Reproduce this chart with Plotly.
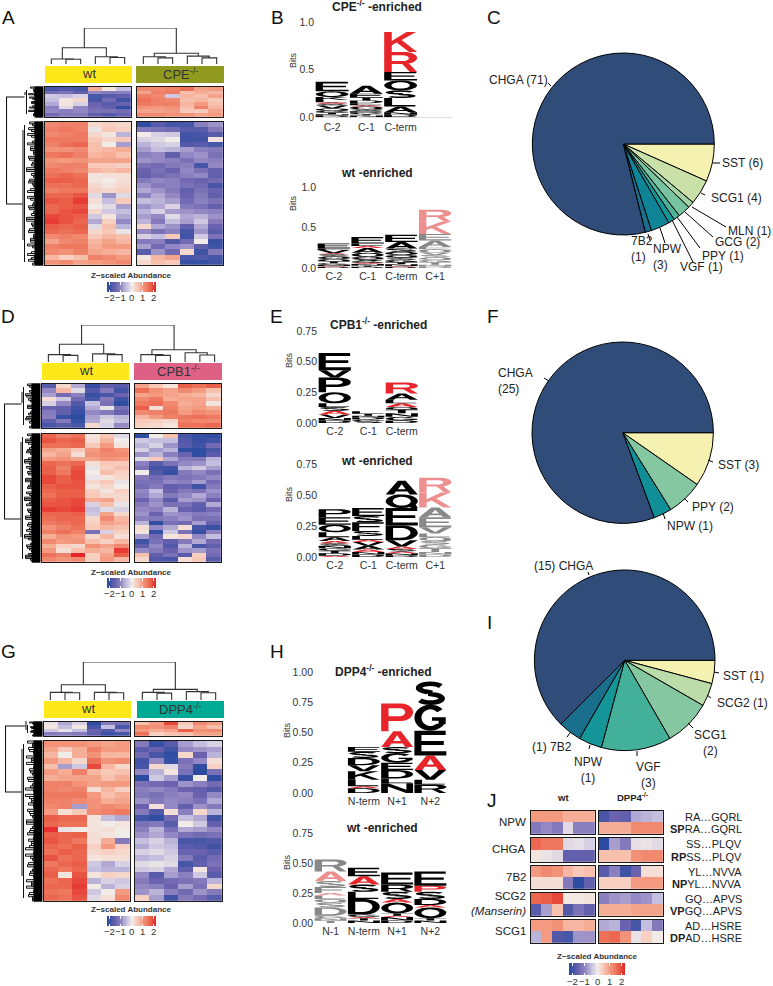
import math
import numpy as np
import plotly.graph_objects as go

W, H = 773, 986
FONT = "Liberation Sans"
INK = "#222222"

# ---------- heatmap values (rows top to bottom, six replicate columns) ----------
A_top_wt = [[-1.9,-1.8,-1.9,.8,.1,-.5],[-1.4,-1.3,-1.6,-1.0,-1.2,-1.1],[-.4,-.5,-.3,-1.9,-1.7,-1.6],[-.5,.1,.3,-1.9,-1.4,-2.0],
            [-.7,.1,-.3,-1.5,-1.7,-1.5],[-1.1,-.2,-1.0,-1.4,-1.6,-2.2],[-1.0,-1.1,-1.0,-1.3,-1.3,-1.4],[-1.4,-1.2,-1.2,-1.6,-1.8,-1.5]]
A_top_ko = [[1.2,1.2,1.3,1.5,.9,1.0],[.9,1.3,1.4,.6,.8,.7],[1.3,1.2,-.4,.7,.6,.9],[1.5,1.3,1.2,.6,.7,.5],
            [1.4,1.3,1.3,.7,1.0,.6],[1.1,1.0,1.1,.6,1.3,.7],[.9,.9,1.0,.5,.5,.9],[1.2,1.2,1.1,1.1,.9,1.0]]
A_bot_wt = [[1.2,1.3,1.3,.3,.4,.3],[1.3,1.4,1.3,-.1,.5,.4],[1.2,1.3,1.4,.3,.1,-.6],[1.4,1.4,1.4,.5,.3,.5],
            [1.3,1.5,1.6,.6,.0,-.8],[1.1,1.1,1.2,.6,.7,.8],[1.4,1.5,1.3,.7,.8,.6],[1.1,1.0,1.1,.9,.9,.9],
            [1.2,1.3,1.3,.5,.5,.4],[1.4,1.3,1.2,.7,.6,.7],[1.5,1.6,1.5,.1,.2,.2],[1.7,1.7,1.6,.1,.0,.2],
            [1.5,1.5,1.6,.3,.1,.3],[1.3,1.4,1.4,.4,.3,.4],[1.6,1.6,1.8,-.2,-.9,-.2],[1.8,1.7,2.0,.2,-.5,.5],
            [1.6,1.7,1.8,.0,-.2,-.8],[1.6,1.8,1.9,.3,-.4,-.5],[1.9,1.8,1.7,-.4,.1,-.7],[2.0,1.8,1.6,-.7,.4,-1.0],
            [1.7,1.6,1.7,-.2,.6,-.6],[1.6,1.5,1.6,.3,.5,-.1],[1.2,1.3,1.2,.5,.7,.6],[.9,1.2,1.3,.7,.9,.7],
            [1.3,1.4,1.4,.8,1.0,1.0],[1.2,1.1,1.3,.9,.8,.7],[.7,.4,.6,1.3,1.2,1.0],[1.1,1.2,.9,1.0,1.1,1.2]]
A_bot_ko = [[-2.2,-1.7,-1.9,-1.9,-1.1,-.9],[-1.2,-1.3,-1.4,-1.7,-1.7,-1.2],[.0,-.3,-.4,-2.0,-1.9,-1.7],[-.3,-.2,.0,-2.0,-2.0,.1],
            [-.6,-.4,-.3,-1.8,-1.7,-1.9],[-.8,-.5,-.6,-.8,-1.1,-1.2],[-1.1,-1.0,-1.6,-1.0,-.9,-1.3],[-.9,-1.0,-1.1,-1.3,-1.0,-1.1],
            [-1.3,-1.4,-1.2,-1.1,-1.9,-1.0],[-1.5,-1.3,-1.5,-1.0,-1.3,-1.6],[-1.6,-1.4,-1.3,-1.1,-1.0,-1.6],[-1.2,-1.0,-1.1,-1.4,-1.5,-1.4],
            [-.9,-1.2,-1.1,-1.3,-1.4,-1.9],[-.7,-.9,-1.2,-1.6,-1.3,-1.5],[-1.1,-.7,-1.0,-1.5,-1.2,-1.6],[-.5,-.6,-.8,-1.4,-1.1,-1.3],
            [-.9,-.7,-.3,-1.2,-1.3,-1.6],[-.6,-.3,-.8,-.9,-1.0,-1.1],[-.8,-1.0,-.2,-.7,-.6,-.9],[-.6,-1.2,-.5,-.8,-.4,-1.2],
            [.3,-.7,-.9,-1.6,-.7,-1.5],[-1.0,-1.3,-1.1,-1.9,-.9,-1.7],[-.3,-.5,.5,-2.0,-.4,-1.3],[-1.2,-1.1,-1.8,-1.4,.0,-2.1],
            [-.8,-1.4,-1.0,-.9,-1.6,-2.0],[-1.7,-.9,-1.4,.3,-2.0,-1.2],[.1,.7,.9,-1.9,-1.8,-1.9],[.3,.6,.5,-2.1,-2.1,-2.0]]

D_top_wt = [[-1.7,.3,-.7,-2.1,-1.6,-1.7],[-1.0,.7,-.2,-1.8,-1.2,-2.0],[-.8,-1.4,-1.1,-2.1,-1.9,-1.5],[.2,-.4,-1.4,-1.9,-1.2,-2.0],
            [-.3,-1.0,-1.8,-.5,-1.3,-2.2],[-1.5,-1.6,-2.0,-.7,-.1,-1.3],[-1.2,-1.6,-2.1,-1.0,-1.2,-1.5],[-1.1,-2.1,-2.3,-.8,-.4,-.6],
            [-1.6,-1.2,-2.1,-.7,-.2,-.5],[-1.9,-1.7,-1.9,.3,-.3,-1.0]]
D_top_ko = [[.9,.5,.1,1.7,1.5,1.7],[1.5,1.1,.9,1.2,1.0,.6],[.9,1.0,.9,.8,.7,.3],[1.2,1.4,.8,.9,.9,.6],
            [1.4,1.5,1.2,.8,.9,.1],[1.7,.2,1.3,.9,1.0,.8],[1.2,1.3,1.4,1.0,1.2,1.1],[.7,1.0,1.3,1.4,1.5,1.4],
            [.5,.4,.3,1.3,1.2,1.2],[.4,.3,.1,1.5,1.5,1.6]]
D_bot_wt = [[1.6,1.3,1.5,.1,.5,-.2],[1.8,1.6,1.7,.2,.7,.0],[1.5,1.5,1.6,.5,1.0,.1],[.9,.8,.5,1.0,1.3,1.1],
            [.7,.9,.2,1.1,1.2,1.2],[1.0,1.1,.9,.9,1.1,1.0],[1.6,1.5,1.6,.2,.5,.5],[1.7,1.3,1.8,-.1,.4,.6],
            [1.7,1.4,1.9,.0,.6,.4],[1.9,1.7,1.9,-.1,.1,.3],[1.9,1.7,1.8,.3,.5,-.1],[1.7,1.8,1.8,.1,.3,.0],
            [1.6,1.7,1.7,.4,.1,.4],[1.5,1.7,1.7,.5,.3,.3],[1.7,1.8,1.9,.8,.9,.3],[1.8,1.8,1.9,-.3,.6,-.1],
            [2.0,1.9,2.0,-.5,-.2,-.3],[1.6,1.6,1.7,-.4,.9,.3],[1.5,1.6,1.6,.3,1.2,.7],[1.4,1.5,1.6,.4,.9,.8],
            [1.1,1.3,1.5,.5,.7,.6],[1.3,1.5,1.3,-1.3,-.3,.4],[.8,1.1,1.0,.3,.7,.2],[1.2,1.0,1.1,.6,.4,.7],
            [.8,.4,.3,1.1,.9,1.2],[1.0,.2,.6,.8,.7,2.0],[1.5,1.3,2.2,.4,.9,1.7],[1.2,1.1,1.2,.4,1.0,.7]]
D_bot_ko = [[-2.2,.0,.6,-1.9,-2.1,-2.2],[-.4,-.5,-.5,-1.8,-2.1,-2.0],[-.6,-.3,-.9,-1.7,-2.0,-1.4],[-.3,-.8,-.6,-2.2,-2.2,-1.9],
            [-.9,-.6,-1.1,-1.5,-2.2,-1.7],[-.2,.5,-.7,-1.2,-1.2,-.6],[-1.1,-1.7,-1.3,-1.0,-.9,-.5],[-1.3,-2.0,-2.0,-.6,-.4,-.8],
            [.0,-1.8,-2.1,-1.2,-1.0,-1.3],[-1.2,-1.4,-1.2,-1.3,-1.2,-1.0],[-1.3,-1.3,-1.0,-1.1,-.8,-1.4],[-1.4,-1.2,-1.6,-1.5,-2.0,-1.2],
            [-1.0,-.5,-1.5,-1.2,-1.3,-.9],[-1.1,-.7,-1.2,-1.0,-.7,-1.1],[-1.5,-1.0,-1.7,-.8,-.9,-1.5],[-1.2,-.9,-1.3,-1.3,-1.6,-.7],
            [-1.0,-1.1,-.6,-1.5,-1.7,-1.4],[-.9,-1.5,-.9,-1.0,-1.2,-1.1],[-1.1,-1.2,-1.1,-.9,-1.3,-1.3],[-.6,-2.2,-1.3,-1.4,-.8,-1.5],
            [.2,-1.0,-.7,.2,-1.9,-2.1],[.1,-2.1,-.4,-1.3,-2.1,-1.1],[-.8,-1.4,.1,.3,-1.0,-.5],[-2.0,-1.3,-1.6,-1.2,-.7,-1.4],
            [-1.6,-1.0,-1.8,-.6,-1.9,-1.6],[-1.0,-1.2,-1.5,-.9,-.8,-1.3],[.6,-1.6,-1.3,-1.7,.4,-1.4],[.3,-1.8,-1.9,.2,.5,-1.7]]

G_top_wt = [[-.1,-.7,-.3,-2.2,-1.2,-1.3],[.1,-.5,.1,-1.9,-.5,-1.9],[-.4,-.1,-.5,-1.5,-1.8,-1.0],[-1.2,-1.1,-1.2,-1.6,-2.1,-1.9]]
G_top_ko = [[.6,1.0,1.9,.5,1.2,1.0],[1.2,1.1,1.3,.3,.9,.6],[1.0,.8,.9,1.7,1.1,1.2],[1.5,.4,.6,.6,.9,.9]]
G_bot_wt = [[1.1,1.1,1.1,1.0,.9,1.0],[.9,.5,.8,1.3,1.0,1.0],[.7,.0,.8,1.1,.7,.7],[1.0,.7,.3,1.5,1.1,1.2],
            [.6,-.8,-.4,1.9,.7,.3],[1.0,.8,1.3,.7,.5,.6],[.8,.9,.9,.9,.6,.8],[1.3,1.3,1.1,.9,1.0,1.0],
            [1.3,1.2,1.3,.2,.7,.4],[1.4,1.4,1.4,1.0,.6,.8],[1.3,1.3,1.2,1.1,.8,.9],[1.2,1.3,-.8,1.1,1.2,1.1],
            [1.0,.2,.5,1.2,1.3,1.4],[1.7,1.6,1.6,.1,-.5,-.7],[1.6,1.5,1.5,.1,.0,.1],[2.1,-.1,.0,.1,.2,.0],
            [1.7,1.6,1.7,.2,.1,.0],[1.8,1.6,1.4,.2,.8,-1.2],[1.6,1.5,1.7,.4,1.0,.4],[1.5,1.7,1.6,.3,.4,.3],
            [1.8,1.5,1.6,.1,.2,.2],[1.4,1.6,1.7,-.4,-.7,-.3],[1.6,1.4,1.6,-.5,-.6,-.6],[1.7,.1,1.8,.1,.4,.3],
            [1.5,1.6,1.9,-.6,-.3,-.4],[1.6,1.6,2.0,.0,-.6,-.3],[1.5,1.4,1.9,-.4,.0,1.0],[1.6,1.5,1.8,-.2,.2,1.2]]
G_bot_ko = [[-1.2,-2.1,-1.7,-.8,-.5,-.3],[-1.7,-1.5,-2.0,-1.0,-.9,-.8],[-1.4,-1.9,-2.2,.3,-1.5,-.6],[-2.0,-1.0,-2.1,-1.3,-1.0,.2],
            [-1.9,.3,-.2,-1.2,-2.2,.4],[-1.0,-.6,.1,-1.3,-2.3,-1.3],[-2.3,-.4,-.8,-2.1,.0,-2.2],[-1.3,-1.4,-1.5,-.9,-1.1,-1.4],
            [-1.1,-1.0,-1.2,-1.5,-1.6,-1.8],[-1.2,-1.3,-1.1,-1.0,-1.5,-1.0],[-.9,-1.2,-1.0,-1.1,-1.3,-.7],[-1.5,.2,-1.0,-1.6,-.9,-1.2],
            [-1.2,-1.8,.2,-1.1,.3,-.6],[-2.0,-2.2,-1.4,-.5,-.7,-2.0],[-1.3,-1.2,-1.7,.0,-.4,-1.6],[-1.1,-.6,-1.3,-.7,-.8,-1.0],
            [-.9,-.7,-1.0,-1.3,-1.4,-1.3],[-.5,-.3,-.6,-1.9,-1.9,-1.8],[-.7,-.4,-.5,-1.7,-1.8,-2.0],[-.3,-.2,-.4,-1.5,-1.5,-1.7],
            [-.6,-.5,-.3,-1.2,-1.7,-1.4],[-.2,-.1,-.2,-1.9,-1.6,-1.3],[-.4,-.3,-.7,-1.6,.1,-1.5],[-1.0,-1.7,-.8,-1.1,-.4,-1.7],
            [-1.2,-1.5,-1.4,-1.3,-1.2,-.6],[-1.0,-1.1,-1.5,-.8,-1.3,.3],[-.9,-.6,-1.1,-1.4,-.9,-1.2],[.4,-.8,-2.0,-1.2,-1.4,-1.7]]

# ---------- panel J heat values ----------
J_names = ["NPW", "CHGA", "7B2", "SCG2<br><i>(Manserin)</i>", "SCG1"]
J_wt = [[[1.0,1.0,1.0,.8,.8,.8],[-1.2,-1.0,-1.2,-.2,-1.1,-1.1]],
        [[1.6,1.4,1.4,-.2,-.15,-.3],[.1,-.1,-.2,-1.6,-1.6,-1.6]],
        [[1.0,1.2,1.1,.7,.5,.6],[.2,.2,.2,-1.2,-2.2,-1.6]],
        [[1.6,1.7,1.9,.05,.05,.1],[-1.7,-.8,.6,-1.8,-1.3,-1.6]],
        [[1.0,1.0,1.1,.7,.7,.8],[-.6,1.0,-1.8,-1.9,-.9,-.9]]]
J_ko = [[[-1.9,-1.5,-1.6,-.7,-.6,-.5],[.8,.8,.8,1.2,1.2,1.2]],
        [[-2.3,-.8,-1.2,-.15,-.1,-.2],[.6,.6,.6,1.1,1.2,1.2]],
        [[-1.7,-1.1,-2.0,-1.5,.2,.2],[.4,.4,.4,1.0,1.0,1.0]],
        [[-1.1,-.9,-.8,-1.0,-.9,-.5],[.8,.8,.8,.9,.9,.9]],
        [[-.7,-.6,-1.5,-1.9,-.5,-1.2],[1.5,1.6,1.1,-.1,.4,.0]]]
J_peptides = [["RA…GQRL","<b>SP</b>RA…GQRL"],["SS…PLQV","<b>RP</b>SS…PLQV"],["YL…NVVA","<b>NP</b>YL…NVVA"],
              ["GQ…APVS","<b>VP</b>GQ…APVS"],["AD…HSRE","<b>DP</b>AD…HSRE"]]

# ---------- legend scale ----------
LEGEND_Z = [-2.25,-2,-1.75,-1.5,-1.25,-1,-.75,-.5,-.25,0,.25,.5,.75,1,1.25,1.5,1.75,2,2.25]
LEGEND_TICKS = [-2,-1,0,1,2]
LEGEND_TEXT = ["−2","−1","0","1","2"]

# ---------- column dendrograms: (height, left, right), leaves are 0..11 ----------
A_col_tree = (1.0,(.45,(.14,0,(.13,1,2)),(.2,3,(.18,4,5))),(.3,(.2,6,(.17,7,8)),(.22,9,(.17,10,11))))
D_col_tree = (1.0,(.48,(.2,0,(.18,1,2)),(.22,3,(.2,4,5))),(.33,(.2,6,(.18,7,8)),(.25,9,(.19,10,11))))
G_col_tree = (1.0,(.4,(.2,0,(.19,1,2)),(.2,3,(.19,4,5))),(.28,(.2,6,(.18,7,8)),(.22,9,(.19,10,11))))

# ---------- row dendrogram depths (distance of each branch from the leaf edge) ----------
A_depth_top = [13,10,9,15,6,11,8,12,7,14,9,6,10,8]
A_depth_bot = [14,9,12,16,8,11,7,13,10,15,9,12,17,8,10,14,11,7,16,9,13,10,15,8,12,17,9,11,14,7,10,13,16,8,12,9,15,11]
D_depth_top = [13,9,11,15,7,10,8,13,6,12,14,9,7,11]
D_depth_bot = [13,10,15,8,11,14,7,12,16,9,11,13,8,15,10,12,7,14,9,16,11,8,13,10,15,7,12,9,14,11,16,8,10,13,9,12,15,8]
G_depth_top = [13,9,7,11,8,12,6,10]
G_depth_bot = [15,10,13,8,11,16,9,12,7,14,10,17,8,13,11,9,15,12,7,16,10,13,8,14,11,17,9,12,7,15,10,13,8,11,16,9,14,10]
A_root = (97, 204); D_root = (404, 519); G_root = (726, 792)

# ---------- sequence logos: lower case letters are the red residues ----------
B1_pos = ["C-2","C-1","C-term",""]
B1_seq = ["DNTGQVSaLKOE","NTGDSQaLDTEA","DNALSOErk"]
B1_bits = [[.015,.015,.015,.02,.025,.03,.02,.015,.025,.03,.06,.1],[.015,.015,.015,.015,.02,.03,.015,.02,.03,.03,.04,.085],[.025,.025,.06,.09,.08,.105,.09,.21,.21]]
B2_pos = ["C-2","C-1","C-term","C+1"]
B2_seq = ["DaNGTQOSaVLE","DTNaGSQOAaLE","DaNTGSQOSAE","DNTGQSVOEAEkr"]
B2_bits = [[.015,.01,.015,.02,.02,.03,.03,.03,.012,.04,.02,.06],[.015,.015,.02,.012,.025,.02,.03,.05,.06,.025,.03,.08],
           [.015,.01,.02,.025,.03,.03,.03,.04,.04,.08,.09],[.02,.02,.03,.03,.03,.03,.03,.04,.03,.08,.08,.15,.15]]
E1_pos = ["C-2","C-1","C-term"]
E1_seq = ["DNVaSLOPVE","SGDNTL","DGNTQaLAr"]
E1_bits = [[.02,.02,.03,.03,.03,.03,.09,.12,.06,.14],[.015,.015,.015,.015,.015,.02],[.02,.03,.03,.03,.02,.03,.03,.05,.09]]
E2_pos = ["C-2","C-1","C-term","C+1"]
E2_seq = ["aDTGNSaALOEP","DNaAVaLSFSE","DNaSaVDEQA","DNTGSQLVEAkr"]
E2_bits = [[.01,.02,.02,.02,.02,.02,.02,.03,.04,.06,.06,.065],[.02,.02,.02,.03,.03,.02,.03,.04,.07,.05,.065],
           [.015,.015,.015,.02,.02,.05,.12,.14,.11,.11],[.02,.02,.03,.03,.03,.03,.03,.05,.08,.08,.12,.12]]
H1_pos = ["","N-term","N+1","N+2"]
H1_seq = ["","DaLKVDSE","NLDEGSap","RLVaEGS"]
H1_bits = [[],[.04,.015,.055,.07,.05,.06,.05,.04],[.08,.04,.07,.06,.08,.05,.13,.23],[.07,.04,.08,.12,.205,.215,.19]]
H2_pos = ["N-1","N-term","N+1","N+2"]
H2_seq = ["TNGDSQLaFSaR","NTaGDLSaE","DNaTOaSRE","NTOaDSpE"]
H2_bits = [[.02,.02,.02,.07,.04,.03,.03,.02,.05,.05,.08,.10],[.02,.02,.01,.02,.13,.06,.06,.07,.07],
           [.02,.03,.01,.02,.09,.03,.06,.06,.10],[.02,.02,.09,.02,.05,.06,.05,.12]]

# ---------- pies ----------
C_labels = ["SST","SCG1","MLN","GCG","PPY","VGF","NPW","7B2","CHGA"]
C_values = [6,4,1,2,1,1,3,1,71]
C_colors = ["#f5f1b0","#c9e0a8","#a5d3a5","#78c3a0","#4fb39b","#149597","#0f8496","#1a6f8c","#2f4d78"]
F_labels = ["SST","PPY","NPW","CHGA"]
F_values = [3,2,1,25]
F_colors = ["#f5f1b0","#85c7a0","#108f96","#2f4d78"]
I_labels = ["SST","SCG2","SCG1","VGF","NPW","7B2","CHGA"]
I_values = [1,1,2,3,1,1,15]
I_colors = ["#f5f1b0","#bcdcaa","#85c7a0","#43b09a","#149597","#1a6f8c","#2f4d78"]

RAMP = [[-2.25,"#2b4ba0"],[-1.5,"#6a62ae"],[-1,"#9388c3"],[-.5,"#c5bfdf"],[0,"#f2ece8"],[.5,"#f8c9b8"],[1,"#f39a80"],[1.7,"#ea5f48"],[2.25,"#e41f26"]]
COLORSCALE = [[(v+2.25)/4.5, c] for v, c in RAMP]

fig = go.Figure()
layout = {}
shapes = []
annots = []
nax = [0]

def fx(x): return x / W
def fy(y): return 1 - y / H

def axes(x0, x1, y0, y1, xa=None, ya=None):
    nax[0] += 1
    n = nax[0]
    s = "" if n == 1 else str(n)
    base = dict(showgrid=False, zeroline=False, showticklabels=False, ticks="", fixedrange=True)
    d = dict(base, domain=[fx(x0), fx(x1)], anchor="y"+s); d.update(xa or {})
    e = dict(base, domain=[fy(y1), fy(y0)], anchor="x"+s); e.update(ya or {})
    layout["xaxis"+s] = d
    layout["yaxis"+s] = e
    return "x"+s, "y"+s

def text(x, y, t, size=10, anchor="left", color=INK, angle=0):
    annots.append(dict(x=fx(x), y=fy(y), xref="paper", yref="paper", text=t, showarrow=False, xanchor=anchor,
                       yanchor="middle", align=anchor, font=dict(size=size, family=FONT, color=color),
                       textangle=angle, borderpad=0, borderwidth=0))

def heat(z, x0, x1, y0, y1):
    frame = dict(showline=True, mirror=True, linecolor="#1a1a1a", linewidth=1.3)
    xa, ya = axes(x0+.8, x1-.8, y0+.8, y1-.8, frame, dict(frame, autorange="reversed"))
    fig.add_trace(go.Heatmap(z=z, xaxis=xa, yaxis=ya, colorscale=COLORSCALE, zmin=-2.25, zmax=2.25, hoverinfo="skip", showscale=False))

def legend_bar(x0, x1, y0, y1, title_y, label_y):
    xa, ya = axes(x0, x1, y0, y1,
                  dict(range=[-2.25, 2.25], tickvals=LEGEND_TICKS, ticks="inside", ticklen=2.5,
                       tickcolor="white", tickwidth=1, mirror="ticks"),
                  dict(range=[-.5, .5]))
    fig.add_trace(go.Heatmap(z=[LEGEND_Z], x=LEGEND_Z, xaxis=xa, yaxis=ya, zsmooth="best", colorscale=COLORSCALE, zmin=-2.25, zmax=2.25, hoverinfo="skip", showscale=False))
    text((x0+x1)/2, title_y, "<b>Z−scaled Abundance</b>", size=8, anchor="center", color="#333333")
    for t, s in zip(LEGEND_TICKS, LEGEND_TEXT):
        text(x0 + (t+2.25)/4.5*(x1-x0), label_y, s, size=9.5, anchor="center", color="#333333")

def tree_lines(t, gap):
    xs, ys = [], []
    def rec(n):
        if isinstance(n, int):
            return n + (gap if n >= 6 else 0), 0.0
        h, l, r = n
        xl, hl = rec(l); xr, hr = rec(r)
        xs.extend([xl, xl, xr, xr, None]); ys.extend([hl, h, h, hr, None])
        return (xl + xr) / 2, h
    rec(t)
    return xs, ys

def col_dendro(tree, x0, x1, y0, y1, gap):
    xa, ya = axes(x0, x1, y0, y1, dict(range=[-.5, 11.5+gap]), dict(range=[0, 1]))
    xs, ys = tree_lines(tree, gap)
    fig.add_trace(go.Scatter(x=xs, y=ys, xaxis=xa, yaxis=ya, mode="lines", line=dict(color="#333333", width=1.1), hoverinfo="skip", showlegend=False))

def row_dendro(depth_top, depth_bot, root, xroot, xedge, top, bot):
    xa, ya = axes(xroot, xedge, top[0], bot[1], dict(range=[xedge-xroot, 0]), dict(range=[bot[1], top[0]]))
    xs, ys = [], []
    for dep, (a, b) in ((depth_top, top), (depth_bot, bot)):
        dep = [v for pair in zip(dep, dep[::-1]) for v in pair]
        rows = np.linspace(a + 1, b - 1, len(dep))
        for i in range(len(dep) - 1):
            xs += [0, dep[i], dep[i], 0, None]
            ys += [rows[i], rows[i], rows[i+1], rows[i+1], None]
        m = max(dep) + 2
        xs += [m, m, None]; ys += [rows[0] + 3, rows[-1] - 3, None]
        k = m + 1.5
        xs += [k, k, None]; ys += [rows[0] + 8, rows[-1] - 25, None]
    fig.add_trace(go.Scatter(x=xs, y=ys, xaxis=xa, yaxis=ya, mode="lines", line=dict(color="#111111", width=1), hoverinfo="skip", showlegend=False))
    end = xedge - xroot - .5
    top_k = max(depth_top) + 4; bot_k = max(depth_bot) + 4
    fig.add_trace(go.Scatter(x=[top_k, end, end, bot_k], y=[root[0], root[0], root[1], root[1]], xaxis=xa, yaxis=ya, mode="lines",
                             line=dict(color="#111111", width=1.1), hoverinfo="skip", showlegend=False))
    fig.add_trace(go.Scatter(x=[4.5, 4.5, None, 4.5, 4.5], y=[top[0]+.5, top[1]-.5, None, bot[0]+.5, bot[1]-.5], xaxis=xa, yaxis=ya, mode="lines",
                             line=dict(color="#000000", width=9), hoverinfo="skip", showlegend=False))

def color_strip(x0, x1, y0, y1, color, label):
    shapes.append(dict(type="rect", xref="paper", yref="paper", x0=fx(x0), x1=fx(x1), y0=fy(y1), y1=fy(y0), fillcolor=color, line=dict(width=0)))
    text((x0+x1)/2, (y0+y1)/2 - 1, label, size=13, anchor="center", color="#333333")

# ---------- glyphs in a unit box ----------
def arc(cx, cy, rx, ry, a0, a1, n=14):
    return [(cx + rx*math.cos(math.radians(a)), cy + ry*math.sin(math.radians(a))) for a in np.linspace(a0, a1, n)]

def s_glyph():
    c = arc(.5,.73,.36,.18,25,270,16) + arc(.5,.27,.36,.18,90,-155,16)
    c = np.array(c)
    t = np.gradient(c, axis=0); t /= np.linalg.norm(t, axis=1, keepdims=True)
    nrm = np.stack([-t[:,1], t[:,0]], axis=1)
    return [[tuple(p) for p in c + .1*nrm] + [tuple(p) for p in (c - .1*nrm)[::-1]]]

P_HOLE = [(.23,.54),(.58,.54)] + arc(.58,.685,.17,.145,-90,90) + [(.23,.83)]
GLYPHS = {
 "E": [[(0,0),(1,0),(1,.17),(.22,.17),(.22,.42),(.92,.42),(.92,.58),(.22,.58),(.22,.83),(.98,.83),(.98,1),(0,1)]],
 "F": [[(0,0),(.22,0),(.22,.42),(.85,.42),(.85,.58),(.22,.58),(.22,.83),(.98,.83),(.98,1),(0,1)]],
 "L": [[(0,0),(.95,0),(.95,.17),(.24,.17),(.24,1),(0,1)]],
 "T": [[(.38,0),(.62,0),(.62,.83),(1,.83),(1,1),(0,1),(0,.83),(.38,.83)]],
 "K": [[(0,0),(.23,0),(.23,.33),(.38,.47),(.76,0),(1,0),(.53,.6),(.97,1),(.68,1),(.23,.55),(.23,1),(0,1)]],
 "V": [[(.38,0),(.62,0),(1,1),(.76,1),(.5,.25),(.24,1),(0,1)]],
 "A": [[(0,0),(.25,0),(.32,.22),(.68,.22),(.75,0),(1,0),(.62,1),(.38,1)],[(.38,.38),(.62,.38),(.5,.75)]],
 "N": [[(0,0),(.21,0),(.21,.67),(.78,0),(1,0),(1,1),(.79,1),(.79,.33),(.22,1),(0,1)]],
 "P": [[(0,0),(.23,0),(.23,.37),(.6,.37)] + arc(.62,.685,.38,.315,-90,90) + [(0,1)], P_HOLE],
 "R": [[(0,0),(.23,0),(.23,.4),(.55,.4),(.78,0),(1,0),(.74,.44)] + arc(.62,.7,.38,.3,-65,90) + [(0,1)], P_HOLE],
 "D": [[(0,0),(.5,0)] + arc(.5,.5,.5,.5,-90,90) + [(0,1)], [(.23,.17),(.47,.17)] + arc(.47,.5,.3,.33,-90,90) + [(.23,.83)]],
 "O": [arc(.5,.5,.5,.5,0,360,28), arc(.5,.5,.28,.32,0,360,28)],
 "Q": [arc(.5,.5,.5,.5,-30,300,28) + [(.8,.0),(1,0)], arc(.5,.5,.28,.32,0,360,28)],
 "G": [arc(.5,.5,.5,.5,40,330,24) + [(.98,.25),(.98,.52),(.55,.52),(.55,.38),(.76,.38),(.76,.28)] + arc(.5,.5,.28,.32,310,40,18)],
 "S": s_glyph(),
}

def glyph_path(ch, x0, x1, y0, y1):
    out = []
    for poly in GLYPHS[ch]:
        pts = [f"{x0+(x1-x0)*px:.4f},{y0+(y1-y0)*py:.4f}" for px, py in poly]
        out.append("M" + " L".join(pts) + " Z")
    return " ".join(out)

def logo(pos, seq, bits, x0, x1, y_base, y_top, ymax, ticks, faded=None, baseline=False, tick_fmt="{:.1f}"):
    xa_opts = dict(range=[-.5, len(pos)-.5], tickvals=[i for i,p in enumerate(pos) if p], ticktext=[p for p in pos if p],
                   showticklabels=True, tickfont=dict(size=10.5, family=FONT, color="#333333"))
    if baseline:
        xa_opts.update(showline=True, linecolor="#dddddd", linewidth=1)
    ya_opts = dict(range=[0, ymax], tickvals=ticks, ticktext=[tick_fmt.format(t) for t in ticks], showticklabels=True,
                   tickfont=dict(size=10.5, family=FONT, color="#333333"))
    xa, ya = axes(x0, x1, y_top, y_base, xa_opts, ya_opts)
    for i, (letters, hs) in enumerate(zip(seq, bits)):
        base = 0.0
        for ch, h in zip(letters, hs):
            red = ch.islower()
            fade = (i == faded)
            col = ("#ee8f8f" if fade else "#e8252a") if red else ("#888888" if fade else "#000000")
            shapes.append(dict(type="path", xref=xa, yref=ya, path=glyph_path(ch.upper(), i-.48, i+.48, base, base+h),
                               fillcolor=col, line=dict(width=0)))
            base += h

def pie(labels, values, colors, cx, cy, r):
    fig.add_trace(go.Pie(labels=labels, values=values, sort=False, direction="clockwise", rotation=90, textinfo="none", hoverinfo="skip",
                         marker=dict(colors=colors, line=dict(color="#000000", width=1)), showlegend=False,
                         domain=dict(x=[fx(cx-r), fx(cx+r)], y=[fy(cy+r), fy(cy-r)])))

def leader(x0, y0, x1, y1):
    shapes.append(dict(type="line", xref="paper", yref="paper", x0=fx(x0), y0=fy(y0), x1=fx(x1), y1=fy(y1), line=dict(color="#000000", width=1)))

# ---------- panels A, D, G ----------
def heat_panel(top_wt, top_ko, bot_wt, bot_ko, wtx, kox, topy, boty):
    heat(top_wt, *wtx, *topy); heat(top_ko, *kox, *topy)
    heat(bot_wt, *wtx, *boty); heat(bot_ko, *kox, *boty)

heat_panel(A_top_wt, A_top_ko, A_bot_wt, A_bot_ko, (44,132), (136,224), (86,118), (121,266))
heat_panel(D_top_wt, D_top_ko, D_bot_wt, D_bot_ko, (41,130), (134,222), (383,429), (433,563))
heat_panel(G_top_wt, G_top_ko, G_bot_wt, G_bot_ko, (43,131), (134,223), (721,737), (740,902))
legend_bar(107, 156, 282, 292, 275, 297)
legend_bar(107, 156, 578, 588, 572, 593)
legend_bar(107, 156, 916, 926, 909, 931)

col_dendro(A_col_tree, 44, 224, 28, 64, .27)
col_dendro(D_col_tree, 41, 222, 325, 362, .27)
col_dendro(G_col_tree, 43, 223, 662, 700, .27)
row_dendro(A_depth_top, A_depth_bot, A_root, 6, 43.5, (86,118), (121,266))
row_dendro(D_depth_top, D_depth_bot, D_root, 4, 40.5, (383,429), (433,563))
row_dendro(G_depth_top, G_depth_bot, G_root, 5, 42.5, (721,737), (740,902))
color_strip(45,132,66,83,"#ffe81a","wt"); color_strip(136,224,66,83,"#8f9a1e","CPE<sup>-/-</sup>")
color_strip(42,129,363,380,"#ffe81a","wt"); color_strip(134,222,363,380,"#df6085","CPB1<sup>-/-</sup>")
color_strip(44,131,701,718,"#ffe81a","wt"); color_strip(137,224,701,718,"#00ab96","DPP4<sup>-/-</sup>")

# ---------- logos ----------
logo(B1_pos, B1_seq, B1_bits, 315, 452, 117, 22, 1.0, [0,.5,1.0], baseline=True)
logo(B2_pos, B2_seq, B2_bits, 317, 452, 268, 187, 1.0, [0,.5,1.0], faded=3)
logo(E1_pos+[""], E1_seq, E1_bits, 318, 452, 423, 331, .75, [0,.25,.5,.75], tick_fmt="{:.2f}")
logo(E2_pos, E2_seq, E2_bits, 318, 452, 557, 464, .75, [0,.25,.5,.75], faded=3, tick_fmt="{:.2f}")
logo(H1_pos, H1_seq, H1_bits, 314, 447, 793, 672, 1.0, [0,.25,.5,.75,1.0], tick_fmt="{:.2f}")
logo(H2_pos, H2_seq, H2_bits, 314, 447, 923, 833, .75, [0,.25,.5,.75], faded=0, tick_fmt="{:.2f}")
for x, y, t in ((377,6,"CPE<sup>-/-</sup> -enriched"),(377,173,"wt -enriched"),(378,324,"CPB1<sup>-/-</sup> -enriched"),
                (377,461,"wt -enriched"),(383,671,"DPP4<sup>-/-</sup> -enriched"),(382,828,"wt -enriched")):
    text(x, y, f"<b>{t}</b>", size=12, anchor="center")
for x, y in ((293,60),(293,203),(289,360),(289,494),(287,730),(287,862)):
    text(x, y, "Bits", size=9, anchor="center", color="#333333", angle=-90)

# ---------- pies ----------
pie(C_labels, C_values, C_colors, 623.3, 144, 91)
pie(F_labels, F_values, F_colors, 622.7, 432.7, 90.7)
pie(I_labels, I_values, I_colors, 624.7, 660.3, 90.3)
for x, y, t, a in ((548,80,"CHGA (71)","right"),(722,163,"SST (6)","left"),(711,198,"SCG1 (4)","left"),(728,231,"MLN (1)","left"),
                   (715,242,"GCG (2)","left"),(702,256,"PPY (1)","left"),(680,267,"VGF (1)","left"),(653,257,"NPW<br>(3)","left"),(631,249,"7B2<br>(1)","left"),
                   (498,381,"CHGA<br>(25)","left"),(718,465,"SST (3)","left"),(692,507,"PPY (2)","left"),(667,526,"NPW (1)","left"),
                   (534,566,"(15) CHGA","left"),(723,676,"SST (1)","left"),(717,703,"SCG2 (1)","left"),(710,743,"SCG1<br>(2)","center"),
                   (648,775,"VGF<br>(3)","center"),(588,770,"NPW<br>(1)","center"),(532,747,"(1) 7B2","left")):
    text(x, y, t, size=12, anchor=a)
for seg in ((548,83,551,86),(713,163,720,163),(701,193,705,195),(692,207,726,227),(685,212,713,237),(677,217,700,248),(672,220,693,262),(660,228,665,243),(648,234,650,240),
            (544,378,549,381),(708,460,713,462),(684,498,688,502),(663,513,665,519),
            (588,572,589,575),(714,672,719,673),(707,695,711,698),(688,723,693,728),(637,751,637,756),(590,745,589,749),(570,733,567,737)):
    leader(*seg)

# ---------- panel J ----------
J_y = [(810,835),(837,863),(865,890),(892,917),(919,944)]
for i, (a, b) in enumerate(J_y):
    heat(J_wt[i], 530, 596, a, b)
    heat(J_ko[i], 598, 664, a, b)
    text(742, a+7, J_peptides[i][0], size=11, anchor="right")
    text(742, b-6, J_peptides[i][1], size=11, anchor="right")
    text(526, (a+b)/2-1, J_names[i], size=11.5, anchor="right")
legend_bar(569, 625, 963, 975, 956, 981)
text(563, 797, "<b>wt</b>", size=9.5, anchor="center")
text(632, 797, "<b>DPP4<sup>-/-</sup></b>", size=9.5, anchor="center")

# ---------- panel letters ----------
for x, y, t in ((2,18,"A"),(271,18,"B"),(487,18,"C"),(1,316,"D"),(270,316,"E"),(487,316,"F"),(1,651,"G"),(270,651,"H"),(487,622,"I"),(487,800,"J")):
    text(x, y, t, size=19, color="#111111")

fig.update_layout(width=W, height=H, autosize=False, margin=dict(l=0, r=0, t=0, b=0, autoexpand=False), paper_bgcolor="white", plot_bgcolor="white",
                  showlegend=False, shapes=shapes, annotations=annots, font=dict(family=FONT), **layout)
fig.write_html("out.html", config=dict(displayModeBar=False, responsive=False),
               post_script="document.body.style.margin='0';document.documentElement.style.overflow='hidden';")
